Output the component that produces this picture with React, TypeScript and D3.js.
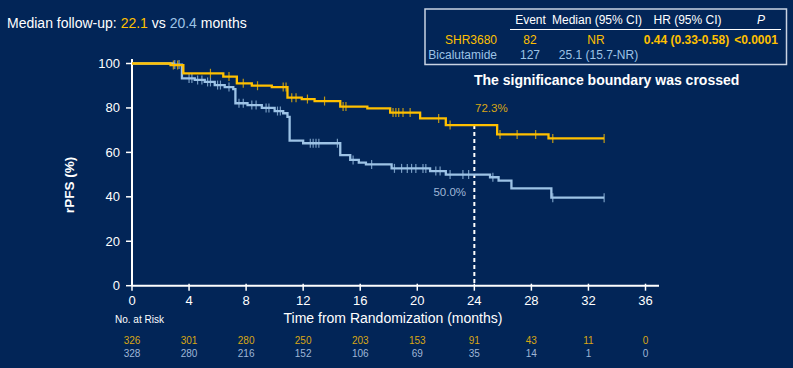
import React from "react";
import * as d3 from "d3";

const monthTicks = [0, 4, 8, 12, 16, 20, 24, 28, 32, 36];
const pctTicks = [0, 20, 40, 60, 80, 100];

// Kaplan-Meier steps: [time (months), rPFS %]
const shrSteps: [number, number][] = [
  [0, 100], [2.7, 99.3], [3.6, 95.6], [6.4, 94.1], [7.35, 91.1], [8.4, 90.0], [9.8, 89.4],
  [10.9, 84.6], [11.9, 84.0], [12.8, 83.1], [14.6, 80.6], [16.5, 79.8], [18.1, 77.9],
  [20.2, 75.3], [22.0, 72.3], [25.6, 68.1], [29.2, 66.3],
];
const shrEnd = 33.1;
const shrCensor = [2.9, 3.2, 5.5, 6.8, 7.8, 8.8, 10.6, 10.8, 11.2, 11.5, 12.3, 13.5, 14.8, 15.0,
  18.3, 18.5, 18.7, 19.0, 19.5, 21.5, 22.3, 25.8, 27.0, 28.3, 29.5, 33.1];

const bicSteps: [number, number][] = [
  [0, 100], [2.9, 99.5], [3.5, 93.3], [4.4, 92.6], [5.1, 91.7], [5.8, 90.3], [6.5, 89.4],
  [7.1, 88.5], [7.25, 82.1], [8.1, 81.3], [9.1, 80.0], [10.0, 78.6], [10.6, 77.6], [10.9, 76.0],
  [11.05, 65.3], [12.0, 64.1], [14.6, 58.8], [15.3, 56.6], [15.9, 55.4], [16.4, 54.6],
  [18.2, 52.8], [20.9, 51.6], [22.0, 50.0], [25.1, 48.8], [25.7, 47.3], [26.6, 43.8], [29.4, 39.6],
];
const bicEnd = 33.1;
const bicCensor = [3.0, 3.3, 4.0, 4.2, 4.6, 4.9, 5.3, 5.5, 6.0, 6.2, 6.8, 7.5, 7.8, 8.4, 8.7, 9.4,
  9.6, 10.2, 10.4, 12.5, 12.7, 12.9, 13.1, 14.4, 15.5, 16.8, 18.4, 18.9, 19.3, 19.6, 19.9, 20.4,
  20.6, 21.3, 21.6, 22.3, 23.2, 23.6, 25.3, 29.5, 33.1];

const riskShr = [326, 301, 280, 250, 203, 153, 91, 43, 11, 0];
const riskBic = [328, 280, 216, 152, 106, 69, 35, 14, 1, 0];

const landmarkMonth = 24;
const landmarkShr = "72.3%";
const landmarkBic = "50.0%";

const BG = "#022557";
const YEL = "#FFC000";
const BLU = "#9DC3E6";
const YEL_DIM = "#D9A514";
const BLU_DIM = "#9FB6D6";
const WHITE = "#FFFFFF";
const FONT = "'Liberation Sans', Arial, sans-serif";

function survAt(steps: [number, number][], t: number) {
  let v = steps[0][1];
  for (const [s, p] of steps) if (s <= t) v = p;
  return v;
}

export default function App() {
  const W = 793, H = 368;
  const x = d3.scaleLinear().domain([0, 36]).range([132, 645.5]);
  const y = d3.scaleLinear().domain([0, 100]).range([285.7, 63.5]);

  const line = d3.line<[number, number]>().x(d => x(d[0])).y(d => y(d[1])).curve(d3.curveStepAfter);
  const pathFor = (steps: [number, number][], end: number) =>
    line([...steps, [end, steps[steps.length - 1][1]]]) || "";

  const censorMarks = (times: number[], steps: [number, number][], color: string) =>
    times.map((t, i) => {
      const yy = y(survAt(steps, t));
      return <line key={i} x1={x(t)} x2={x(t)} y1={yy - 4.5} y2={yy + 4.5} stroke={color} strokeWidth={1.2} strokeOpacity={0.75} />;
    });

  return (
    <svg width={W} height={H} style={{ position: "absolute", left: 0, top: 0, fontFamily: FONT }}>
      <rect x={0} y={0} width={W} height={H} fill={BG} />

      <text x={7} y={28} fontSize={14} fill={WHITE}>
        Median follow-up: <tspan fill={YEL}>22.1</tspan> vs <tspan fill={BLU}>20.4</tspan> months
      </text>

      {/* Summary table */}
      <rect x={425} y={9} width={361.5} height={55.5} fill="none" stroke="#C9D3E3" strokeWidth={1.5} />
      <g fontSize={12} fill={WHITE} textAnchor="middle">
        <text x={530.5} y={24}>Event</text>
        <text x={597} y={24}>Median (95% CI)</text>
        <text x={687.5} y={24}>HR (95% CI)</text>
        <text x={761} y={24} fontStyle="italic">P</text>
      </g>
      <line x1={510} x2={781} y1={29.5} y2={29.5} stroke={WHITE} strokeWidth={1.2} />
      <g fontSize={12}>
        <text x={497} y={43.5} textAnchor="end" fill={YEL}>SHR3680</text>
        <text x={530} y={43.5} textAnchor="middle" fill={YEL}>82</text>
        <text x={596} y={43.5} textAnchor="middle" fill={YEL}>NR</text>
        <text x={686.5} y={43.5} textAnchor="middle" fill={YEL} fontWeight="bold">0.44 (0.33-0.58)</text>
        <text x={756} y={43.5} textAnchor="middle" fill={YEL} fontWeight="bold">&lt;0.0001</text>
        <text x={497} y={59} textAnchor="end" fill={BLU}>Bicalutamide</text>
        <text x={530} y={59} textAnchor="middle" fill={BLU}>127</text>
        <text x={598.5} y={59} textAnchor="middle" fill={BLU}>25.1 (15.7-NR)</text>
      </g>

      <text x={474} y={84.5} fontSize={14} fontWeight="bold" fill={WHITE}>The significance boundary was crossed</text>

      {/* Axes */}
      <line x1={x(0)} x2={x(0)} y1={y(0)} y2={59} stroke={WHITE} strokeWidth={2} />
      <line x1={x(0)} x2={659} y1={y(0)} y2={y(0)} stroke={WHITE} strokeWidth={2} />
      {pctTicks.map(t => (
        <g key={t}>
          <line x1={x(0) - 6} x2={x(0)} y1={y(t)} y2={y(t)} stroke={WHITE} strokeWidth={1.5} />
          <text x={120} y={y(t) + 4.5} fontSize={13} fill={WHITE} textAnchor="end">{t}</text>
        </g>
      ))}
      {monthTicks.map(t => (
        <g key={t}>
          <line x1={x(t)} x2={x(t)} y1={y(0) - 2} y2={y(0) + 5} stroke={WHITE} strokeWidth={1.5} />
          <text x={x(t)} y={305} fontSize={13} fill={WHITE} textAnchor="middle">{t}</text>
        </g>
      ))}
      <text transform="translate(74,185) rotate(-90)" fontSize={13.5} fontWeight="bold" fill={WHITE} textAnchor="middle">rPFS (%)</text>
      <text x={393} y={323} fontSize={14} fill={WHITE} textAnchor="middle">Time from Randomization (months)</text>

      {/* Landmark */}
      <line x1={x(landmarkMonth)} x2={x(landmarkMonth)} y1={y(survAt(shrSteps, landmarkMonth))} y2={y(0)}
        stroke={WHITE} strokeWidth={2} strokeDasharray="4,3" />
      <text x={475} y={111.5} fontSize={11.5} fill={YEL_DIM}>{landmarkShr}</text>
      <text x={466} y={196} fontSize={11.5} fill={BLU_DIM} textAnchor="end">{landmarkBic}</text>

      {/* Curves */}
      <path d={pathFor(bicSteps, bicEnd)} fill="none" stroke={BLU} strokeWidth={2.3} />
      {censorMarks(bicCensor, bicSteps, BLU)}
      <path d={pathFor(shrSteps, shrEnd)} fill="none" stroke={YEL} strokeWidth={2.3} />
      {censorMarks(shrCensor, shrSteps, YEL)}

      {/* Numbers at risk */}
      <text x={115} y={323} fontSize={10} fill={WHITE}>No. at Risk</text>
      {monthTicks.map((t, i) => (
        <g key={t} fontSize={10} textAnchor="middle">
          <text x={x(t)} y={344} fill={YEL_DIM}>{riskShr[i]}</text>
          <text x={x(t)} y={357} fill={BLU_DIM}>{riskBic[i]}</text>
        </g>
      ))}
    </svg>
  );
}
